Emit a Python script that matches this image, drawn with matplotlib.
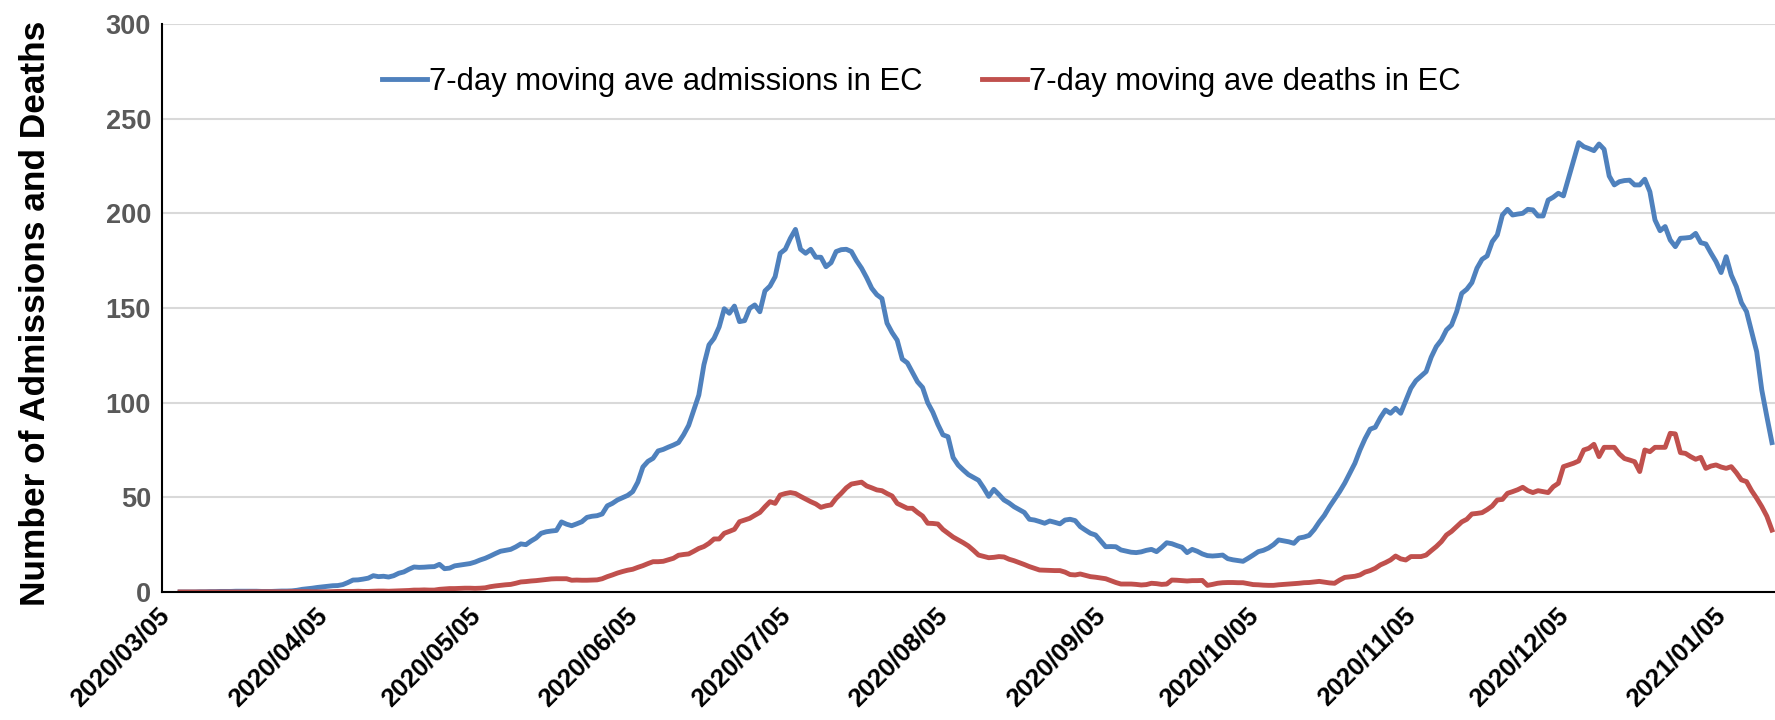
import numpy as np
import pandas as pd
import matplotlib as mpl
mpl.use('Agg')
import matplotlib.pyplot as plt
import matplotlib.dates as mdates
from matplotlib.transforms import ScaledTranslation

plt.rcParams['font.family'] = ['Liberation Sans', 'DejaVu Sans']

# daily 7-day moving averages, starting 2020/03/06
start = '2020-03-06'

admissions = [
    0, 0, 0, 0, 0.1, 0.1, 0.2, 0.2, 0.3, 0.3,
    0.3, 0.4, 0.4, 0.4, 0.4, 0.4, 0.3, 0.3, 0.3, 0.4,
    0.5, 0.5, 0.6, 0.9, 1.4, 1.7, 2.0, 2.4, 2.7, 3.0,
    3.3, 3.4, 3.9, 5.0, 6.3, 6.4, 6.8, 7.3, 8.6, 8.1,
    8.3, 7.9, 8.6, 9.9, 10.6, 12.0, 13.2, 13.0, 13.1, 13.3,
    13.4, 14.6, 12.3, 12.6, 13.8, 14.2, 14.6, 15.0, 15.8, 16.9,
    17.8, 19.0, 20.3, 21.5, 22.0, 22.5, 23.8, 25.4, 25.0, 26.9,
    28.5, 31.0, 31.8, 32.2, 32.5, 37.0, 35.8, 35.0, 36.0, 37.1,
    39.4, 40.0, 40.3, 41.2, 45.5, 46.8, 48.6, 49.8, 51.0, 53.0,
    58.0, 66.0, 69.0, 70.6, 74.5, 75.3, 76.5, 77.6, 78.9, 83.0,
    88.0, 96.0, 104.0, 120.0, 130.5, 134.0, 140.0, 149.6, 147.2, 151.0,
    142.8, 143.3, 149.8, 151.6, 148.0, 159.0, 161.6, 166.5, 178.9, 181.0,
    186.8, 191.5, 181.0, 178.9, 181.0, 176.8, 176.8, 171.8, 173.9, 179.8,
    180.8, 181.0, 179.8, 175.0, 171.0, 166.0, 160.4, 157.0, 155.0, 142.0,
    137.0, 133.0, 123.0, 121.0, 116.0, 111.0, 108.0, 100.0, 95.0, 88.5,
    83.0, 82.0, 71.0, 67.0, 64.4, 62.0, 60.5, 59.0, 55.0, 50.5,
    54.2, 51.5, 48.6, 47.0, 45.0, 43.5, 42.0, 38.4, 38.0, 37.2,
    36.3, 37.5, 36.8, 36.0, 38.0, 38.4, 37.7, 34.5, 32.7, 31.0,
    30.1, 27.0, 23.9, 24.0, 23.9, 22.2, 21.6, 21.0, 20.8, 21.2,
    22.0, 22.5, 21.3, 23.5, 26.0, 25.5, 24.5, 23.6, 20.8, 22.5,
    21.5, 20.1, 19.2, 19.0, 19.2, 19.5, 17.6, 17.0, 16.6, 16.2,
    17.8, 19.5, 21.3, 22.0, 23.2, 25.0, 27.5, 27.0, 26.5, 25.7,
    28.5, 29.0, 29.9, 33.0, 37.0, 40.5, 45.0, 49.0, 53.0, 57.5,
    62.7, 68.0, 75.0, 81.0, 86.0, 87.0, 92.0, 96.1, 94.4, 97.0,
    94.4, 101.0, 107.6, 111.6, 114.0, 116.4, 124.0, 129.6, 133.1, 138.4,
    141.0, 148.0, 157.7, 159.9, 163.4, 171.0, 175.7, 177.5, 185.0, 188.6,
    199.1, 202.1, 199.1, 199.6, 200.0, 202.1, 201.8, 198.6, 198.6, 207.0,
    208.5, 210.6, 209.2, 218.5, 228.0, 237.3, 235.2, 234.2, 233.1, 236.6,
    233.8, 219.7, 215.0, 216.7, 217.3, 217.5, 215.0, 215.0, 218.0, 211.4,
    196.5, 190.8, 193.0, 185.9, 182.4, 186.8, 187.0, 187.3, 189.4, 184.5,
    183.8, 179.0, 174.5, 168.7, 177.1, 167.4, 161.3, 152.8, 148.1, 137.5,
    126.9, 106.7, 92.6, 78.9,
]

deaths = [
    0, 0, 0, 0, 0, 0, 0, 0, 0, 0,
    0, 0, 0, 0, 0.1, 0.1, 0.1, 0.1, 0.1, 0.1,
    0.1, 0.1, 0.2, 0.2, 0.2, 0.2, 0.1, 0.1, 0.1, 0.1,
    0.2, 0.3, 0.3, 0.3, 0.3, 0.4, 0.3, 0.3, 0.4, 0.5,
    0.5, 0.4, 0.5, 0.6, 0.7, 0.8, 1.0, 1.0, 1.1, 1.0,
    1.0, 1.4, 1.6, 1.8, 1.8, 1.9, 2.0, 2.0, 1.9, 2.0,
    2.2, 2.8, 3.2, 3.5, 3.8, 4.0, 4.6, 5.3, 5.5, 5.8,
    6.0, 6.3, 6.6, 6.9, 7.0, 7.0, 7.0, 6.2, 6.3, 6.2,
    6.2, 6.3, 6.4, 7.0, 8.1, 9.0, 10.0, 10.8, 11.5, 12.0,
    13.0, 13.9, 15.0, 16.0, 16.0, 16.2, 17.0, 17.8, 19.4, 19.8,
    20.1, 21.5, 23.0, 24.0, 25.7, 28.0, 28.0, 31.0, 32.0, 33.1,
    37.1, 38.0, 38.9, 40.5, 42.0, 45.0, 47.7, 46.8, 51.2, 52.0,
    52.5, 52.0, 50.5, 49.1, 47.7, 46.5, 44.7, 45.5, 46.0, 49.5,
    52.1, 55.0, 57.0, 57.5, 58.0, 56.0, 55.0, 53.9, 53.5, 52.0,
    50.7, 46.8, 45.5, 44.2, 44.2, 42.0, 40.1, 36.3, 36.2, 35.9,
    33.0, 31.0, 29.0, 27.5, 26.0, 24.3, 22.0, 19.5, 18.8, 18.1,
    18.3, 18.7, 18.5, 17.3, 16.5, 15.5, 14.5, 13.4, 12.5, 11.6,
    11.5, 11.4, 11.3, 11.3, 10.5, 9.2, 9.0, 9.5, 8.8, 8.1,
    7.8, 7.4, 7.0, 6.0, 5.0, 4.2, 4.2, 4.2, 4.0, 3.7,
    3.9, 4.6, 4.4, 4.0, 4.2, 6.3, 6.2, 6.0, 5.8, 6.0,
    6.0, 6.1, 3.5, 4.0, 4.6, 4.9, 5.0, 5.0, 4.9, 4.9,
    4.4, 3.9, 3.8, 3.6, 3.5, 3.5, 3.8, 4.0, 4.2, 4.4,
    4.6, 4.9, 5.0, 5.3, 5.6, 5.2, 4.8, 4.6, 6.3, 7.7,
    8.0, 8.3, 9.0, 10.5, 11.3, 12.5, 14.3, 15.5, 16.9, 19.0,
    17.5, 16.9, 18.7, 18.7, 18.7, 19.5, 21.8, 24.0, 26.6, 30.1,
    32.0, 34.5, 37.0, 38.4, 41.2, 41.5, 41.9, 43.5, 45.4, 48.6,
    48.9, 52.1, 53.0, 54.0, 55.3, 53.5, 52.5, 53.5, 53.0, 52.5,
    55.6, 57.4, 66.2, 67.1, 68.0, 69.2, 75.0, 75.9, 78.0, 71.5,
    76.4, 76.4, 76.4, 72.9, 70.5, 69.7, 68.8, 63.6, 75.0, 74.1,
    76.4, 76.4, 76.4, 83.8, 83.5, 73.6, 73.2, 71.5, 70.1, 71.1,
    65.3, 66.5, 67.1, 66.0, 65.3, 66.2, 63.0, 59.2, 58.3, 53.5,
    49.5, 45.1, 40.0, 32.7,
]

tick_labels = ['2020-03-05', '2020-04-05', '2020-05-05', '2020-06-05', '2020-07-05',
               '2020-08-05', '2020-09-05', '2020-10-05', '2020-11-05', '2020-12-05',
               '2021-01-05']

dates = pd.date_range(start, periods=len(admissions), freq='D')
tick_dates = pd.to_datetime(tick_labels)

fig = plt.figure(figsize=(17.75, 7.2), dpi=100)
ax = fig.add_axes([0.0913, 0.1778, 0.9087, 0.7889])

ax.plot(dates, admissions, color='#4F81BD', lw=3.5,
        label='7-day moving ave admissions in EC')
ax.plot(dates, deaths, color='#C0504D', lw=3.5,
        label='7-day moving ave deaths in EC')

ax.set_ylim(0, 300)
ax.set_yticks(np.arange(0, 301, 50))
ax.set_xlim(dates[0] - pd.Timedelta(days=3.54), dates[-1] + pd.Timedelta(days=0.6))
ax.set_xticks(tick_dates)
ax.xaxis.set_major_formatter(mdates.DateFormatter('%Y/%m/%d'))

ax.grid(axis='y', color='#d9d9d9', lw=1.5)
ax.set_axisbelow(True)
for side in ['top', 'right']:
    ax.spines[side].set_visible(False)
ax.spines['left'].set_linewidth(1.5)
ax.spines['bottom'].set_linewidth(1.5)

ax.tick_params(axis='y', length=0, pad=8, labelsize=19.5, labelcolor='#595959')
ax.tick_params(axis='x', length=0, pad=14, labelsize=18.5)
shift = ScaledTranslation(-9 / 100, 0, fig.dpi_scale_trans)
for lab in ax.get_yticklabels():
    lab.set_fontweight('bold')
for lab in ax.get_xticklabels():
    lab.set_fontweight('bold')
    lab.set_rotation(45)
    lab.set_ha('right')
    lab.set_va('center')
    lab.set_rotation_mode('anchor')
    lab.set_transform(lab.get_transform() + shift)

ax.set_ylabel('Number of Admissions and Deaths', fontsize=25.4, fontweight='bold')
ax.yaxis.set_label_coords(-0.068, 0.49)

ax.legend(loc='center left', bbox_to_anchor=(382 / 1775, 1 - 82 / 720),
          bbox_transform=fig.transFigure, ncol=2, frameon=False, fontsize=22.3,
          borderpad=0, borderaxespad=0, handlelength=1.45, handletextpad=0.08,
          columnspacing=1.9)

fig.savefig('out.png', dpi=100)
